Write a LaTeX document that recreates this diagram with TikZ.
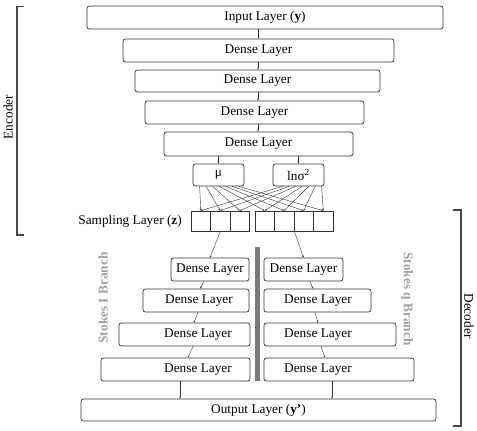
\documentclass[tikz,border=0pt]{standalone}
\usepackage{fontspec}
\setmainfont{Liberation Serif}
\usetikzlibrary{arrows.meta,calc}
\definecolor{ink}{HTML}{333333}
\definecolor{barg}{HTML}{7A7A7A}
\definecolor{lblg}{HTML}{A0A0A0}
\begin{document}
\begin{tikzpicture}[x=1pt,y=-1pt,
  font=\fontsize{13.3}{15}\selectfont,
  box/.style={draw=ink,line width=0.7pt,rounded corners=2.5pt,inner sep=0pt,minimum height=23pt},
  cell/.style={draw=ink,line width=0.7pt,inner sep=0pt,minimum width=19.5pt,minimum height=20pt},
  conn/.style={draw=ink,line width=0.4pt,-{Stealth[length=2.2pt,width=1.8pt]}},
  brk/.style={draw=ink!90,line width=1.2pt},
  lbl/.style={inner sep=0pt}]
\useasboundingbox (0,0) rectangle (477,431);
% encoder
\node[box,minimum width=356pt] (in) at (265,17.5) {Input Layer (\textbf{y})};
\node[box,minimum width=271pt] (e1) at (258.5,50.5) {Dense Layer};
\node[box,minimum width=245pt,minimum height=22pt] (e2) at (257.5,81) {Dense Layer};
\node[box,minimum width=219pt] (e3) at (254.5,112.5) {Dense Layer};
\node[box,minimum width=189pt,minimum height=24pt] (e4) at (258.5,144) {Dense Layer};
\node[box,minimum width=51pt,minimum height=22pt] (mu) at (218.5,175) {μ};
\node[box,minimum width=51pt,minimum height=22pt] (ls) at (298.5,175) {lnσ\textsuperscript{2}};
% sampling cells
\foreach \i/\x in {1/200.75,2/220.25,3/239.75,4/264.75,5/284.25,6/303.75,7/323.25}
  \node[cell] (c\i) at (\x,221) {};
\node[lbl,anchor=east] (samp) at (182,221) {Sampling Layer (\textbf{z})};
% connectors encoder
\draw[conn] (in.south -| e1.north) -- (e1.north);
\coordinate (ex) at (258,0);
\draw[conn] (e1.south -| ex) -- (e2.north -| ex);
\draw[conn] (e2.south -| ex) -- (e3.north -| ex);
\draw[conn] (e3.south -| ex) -- (e4.north -| ex);
\draw[conn] (e4.south -| mu.north) -- (mu.north);
\draw[conn] (e4.south -| ls.north) -- (ls.north);
\foreach \i in {1,...,7}{
  \pgfmathsetmacro{\da}{7+(\i-1)*6.5}
  \pgfmathsetmacro{\db}{10+(\i-1)*6.5}
  \draw[conn] ([xshift=\da pt]mu.south west) -- (c\i.north);
  \draw[conn] ([xshift=\db pt]ls.south west) -- (c\i.north);
}
% decoder left
\node[box,minimum width=78pt] (L1) at (210,269.5) {};
\node[box,minimum width=106pt] (L2) at (196,300.5) {};
\node[box,minimum width=131pt] (L3) at (184.5,334.5) {};
\node[box,minimum width=149pt] (L4) at (175.5,369.5) {};
\node[lbl] (tL1) at (210,269.5) {Dense Layer};
\node[lbl] (tL2) at (199,300.5) {Dense Layer};
\node[lbl] (tL3) at (198,334.5) {Dense Layer};
\node[lbl] (tL4) at (198,369.5) {Dense Layer};
% decoder right
\node[box,minimum width=79pt] (R1) at (303.5,269.5) {};
\node[box,minimum width=107pt] (R2) at (317.5,300.5) {};
\node[box,minimum width=132pt] (R3) at (330,334.5) {};
\node[box,minimum width=150pt] (R4) at (339,369.5) {};
\node[lbl] (tR1) at (303.5,269.5) {Dense Layer};
\node[lbl] (tR2) at (318,300.5) {Dense Layer};
\node[lbl] (tR3) at (318,334.5) {Dense Layer};
\node[lbl] (tR4) at (318,369.5) {Dense Layer};
\node[box,minimum width=355pt,minimum height=22pt] (out) at (258.5,410) {Output Layer (\textbf{y’})};
% decoder connectors
\draw[conn] (c2.south) -- (L1.north);
\draw[conn] (c5.south east) -- (R1.north);
\draw[conn] ([xshift=-6pt]L1.south) -- ([xshift=4pt]L2.north);
\draw[conn] ([xshift=2pt]L2.south) -- ([xshift=9.5pt]L3.north);
\draw[conn] ([xshift=8.5pt]L3.south) -- ([xshift=12.5pt]L4.north);
\draw[conn] ([xshift=4.5pt]L4.south) -- ([xshift=4.5pt]L4.south |- out.north);
\draw[conn] ([xshift=6.5pt]R1.south) -- ([xshift=-4.5pt]R2.north);
\draw[conn] ([xshift=-2.5pt]R2.south) -- ([xshift=-12pt]R3.north);
\draw[conn] ([xshift=-9pt]R3.south) -- ([xshift=-14pt]R4.north);
\draw[conn] ([xshift=-7pt]R4.south) -- ([xshift=-7pt]R4.south |- out.north);
% divider bar
\fill[barg] (255,247) rectangle (259.5,381);
% branch labels
\node[lbl,rotate=90,text=lblg,font=\fontsize{13.3}{15}\selectfont\bfseries] (bI) at (103,298) {Stokes I Branch};
\node[lbl,rotate=-90,text=lblg,font=\fontsize{13.3}{15}\selectfont\bfseries] (bq) at (407,299) {Stokes q Branch};
% brackets
\draw[brk] (24,6.5) -- (17,6.5) -- (17,235) -- (24,235);
\node[lbl,rotate=90] (enc) at (8,117) {Encoder};
\draw[brk] (453,210) -- (461,210) -- (461,426) -- (453,426);
\node[lbl,rotate=-90] (dec) at (469,316) {Decoder};
\end{tikzpicture}
\end{document}
